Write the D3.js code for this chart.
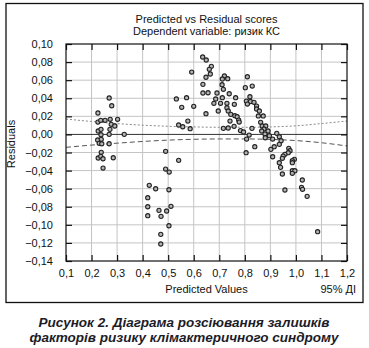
<!DOCTYPE html>
<html><head><meta charset="utf-8">
<script src="https://cdn.jsdelivr.net/npm/d3@7"></script>
<style>
body{margin:0;background:#fff;}
svg{display:block;font-family:"Liberation Sans",Arial,sans-serif;}
</style></head>
<body>
<svg id="c" width="369" height="348"></svg>
<script>
const titleLines = ["Predicted vs Residual scores", "Dependent variable: ризик КС"];
const xLabel = "Predicted Values";
const ciLabel = "95% ДІ";
const yLabel = "Residuals";
const captionLines = ["Рисунок 2. Діаграма розсіювання залишків", "факторів ризику клімактеричного синдрому"];
const xTicks = [0.1,0.2,0.3,0.4,0.5,0.6,0.7,0.8,0.9,1.0,1.1,1.2];
const yTicks = [0.10,0.08,0.06,0.04,0.02,0.00,-0.02,-0.04,-0.06,-0.08,-0.10,-0.12,-0.14];

// predicted values (x) and residuals (y)
const predicted = [
 0.269,0.279,0.225,0.225,0.236,0.253,0.273,0.302,0.277,0.291,0.272,0.226,0.237,0.237,0.269,0.328,0.224,0.238,0.230,0.240,0.269,0.238,0.226,0.236,0.245,0.285,0.245,
 0.490,0.541,0.490,0.504,0.426,0.451,0.503,0.420,0.420,0.464,0.494,0.511,0.420,0.472,0.503,0.471,0.471,
 0.635,0.649,0.669,0.661,0.665,0.592,0.648,0.636,0.720,0.712,0.733,0.711,0.716,0.691,0.739,0.636,0.656,0.712,0.764,0.686,0.532,0.572,0.679,0.705,0.730,0.759,0.553,0.600,0.696,0.730,0.735,0.648,0.745,0.761,0.770,0.577,0.776,0.778,0.742,0.541,0.557,0.586,0.716,0.735,0.758,0.783,0.795,
 0.810,0.802,0.829,0.820,0.806,0.822,0.836,0.810,0.846,0.846,0.857,0.853,0.872,0.862,0.828,0.868,0.882,0.875,0.866,0.891,0.817,0.879,0.925,0.807,0.880,0.896,0.909,0.935,0.942,0.839,0.935,0.915,0.902,0.805,0.972,0.977,0.970,0.957,0.950,0.947,0.909,0.994,0.986,0.986,0.935,0.940,0.986,0.996,0.986,0.947,1.025,1.022,1.026,0.957,1.044,1.085
];
const residuals = [
 0.0403,0.0317,0.0237,0.0137,0.0156,0.0156,0.0167,0.0167,0.0112,0.0093,0.0056,0.0038,0.0056,-0.0003,0.0001,0.0001,-0.0062,-0.0054,-0.0098,-0.0103,-0.0103,-0.0198,-0.0261,-0.0242,-0.0269,-0.0258,-0.0372,
 -0.0187,-0.0287,-0.0383,-0.0416,-0.0563,-0.0601,-0.0612,-0.0700,-0.0800,-0.0840,-0.0847,-0.0795,-0.0899,-0.0906,-0.1010,-0.1105,-0.1212,
 0.0856,0.0823,0.0753,0.0720,0.0668,0.0690,0.0632,0.0554,0.0646,0.0613,0.0616,0.0550,0.0499,0.0458,0.0450,0.0458,0.0461,0.0406,0.0406,0.0392,0.0392,0.0406,0.0344,0.0344,0.0344,0.0333,0.0300,0.0311,0.0259,0.0295,0.0259,0.0229,0.0222,0.0207,0.0196,0.0148,0.0159,0.0137,0.0148,0.0104,0.0085,0.0063,0.0067,0.0071,0.0090,0.0043,0.0027,
 0.0638,0.0517,0.0535,0.0417,0.0369,0.0364,0.0355,0.0336,0.0314,0.0281,0.0259,0.0204,0.0204,0.0134,0.0067,0.0093,0.0093,0.0060,0.0038,0.0038,-0.0007,0.0004,0.0012,-0.0051,-0.0037,-0.0014,-0.0051,-0.0025,-0.0070,-0.0136,-0.0110,-0.0136,-0.0165,-0.0202,-0.0154,-0.0180,-0.0202,-0.0220,-0.0239,-0.0264,-0.0247,-0.0275,-0.0291,-0.0313,-0.0313,-0.0364,-0.0402,-0.0402,-0.0430,-0.0438,-0.0504,-0.0585,-0.0607,-0.0615,-0.0685,-0.1076
];
// 95% confidence band
const ciX = [0.1,0.2,0.3,0.4,0.5,0.6,0.7,0.8,0.9,1.0,1.1,1.2];
const ciUpper = [0.017,0.0143,0.012,0.0102,0.009,0.0083,0.0079,0.0079,0.0083,0.0095,0.012,0.0148];
const ciLower = [-0.0143,-0.0118,-0.0097,-0.0078,-0.0063,-0.0054,-0.005,-0.005,-0.0055,-0.0068,-0.0092,-0.0128];

const svg = d3.select("#c");
const L=66,R=347,T=44,B=261;
const x = d3.scaleLinear().domain([0.1,1.2]).range([L,R]);
const y = d3.scaleLinear().domain([-0.14,0.10]).range([B,T]);
const fmtY = v => d3.format(".2f")(v).replace(".",",").replace("-","\u2212");
const fmtX = v => d3.format(".1f")(v).replace(".",",");

// outer frame
svg.append("rect").attr("x",6).attr("y",3.5).attr("width",357).attr("height",299)
  .attr("fill","none").attr("stroke","#111").attr("stroke-width",1.3);

// gridlines
const g = svg.append("g");
g.selectAll("line.vx").data(xTicks.slice(1,-1)).join("line")
  .attr("x1",d=>x(d)).attr("x2",d=>x(d)).attr("y1",T).attr("y2",B)
  .attr("stroke","#c4c4c4").attr("stroke-width",1);
g.selectAll("line.hy").data(yTicks.filter(d=>Math.abs(d)>1e-9).slice(1,-1)).join("line")
  .attr("x1",L).attr("x2",R).attr("y1",d=>y(d)).attr("y2",d=>y(d))
  .attr("stroke","#c4c4c4").attr("stroke-width",1);
// zero line
g.append("line").attr("x1",L).attr("x2",R).attr("y1",y(0)).attr("y2",y(0))
  .attr("stroke","#333").attr("stroke-width",1);

// CI curves
const ptsU = ciX.map((d,i)=>[d,ciUpper[i]]);
const ptsL = ciX.map((d,i)=>[d,ciLower[i]]);
const line = d3.line().x(d=>x(d[0])).y(d=>y(d[1])).curve(d3.curveMonotoneX);
svg.append("path").attr("d",line(ptsU)).attr("fill","none")
  .attr("stroke","#8a8a8a").attr("stroke-width",1).attr("stroke-dasharray","2,2");
svg.append("path").attr("d",line(ptsL)).attr("fill","none")
  .attr("stroke","#555").attr("stroke-width",1).attr("stroke-dasharray","5,3");

// axes
const axL = d3.axisLeft(y).tickValues(yTicks).tickSize(-6).tickPadding(13).tickFormat(fmtY);
const axR = d3.axisRight(y).tickValues(yTicks).tickSize(-6).tickFormat("");
const axB = d3.axisBottom(x).tickValues(xTicks).tickSize(-6).tickPadding(8).tickFormat(fmtX);
const axT = d3.axisTop(x).tickValues(xTicks).tickSize(-6).tickFormat("");
function style(sel){
  sel.selectAll("path").attr("stroke","#111").attr("stroke-width",1.2);
  sel.selectAll("line").attr("stroke","#111").attr("stroke-width",1.2);
  sel.selectAll("text").attr("fill","#111").style("font-size","11px").style("font-family","'Liberation Sans',Arial,sans-serif");
}
svg.append("g").attr("transform",`translate(${L},0)`).call(axL).call(style).call(s=>s.select(".domain").remove());
svg.append("g").attr("transform",`translate(${R},0)`).call(axR).call(style).call(s=>s.select(".domain").remove());
svg.append("g").attr("transform",`translate(0,${B})`).call(axB).call(style).call(s=>s.select(".domain").remove());
svg.append("g").attr("transform",`translate(0,${T})`).call(axT).call(style).call(s=>s.select(".domain").remove());
svg.append("rect").attr("x",L).attr("y",T).attr("width",R-L).attr("height",B-T)
  .attr("fill","none").attr("stroke","#111").attr("stroke-width",1.2);

// points
svg.append("g").selectAll("circle").data(predicted.map((d,i)=>[d,residuals[i]])).join("circle")
  .attr("cx",d=>x(d[0])).attr("cy",d=>y(d[1])).attr("r",2.1)
  .attr("fill","#b4b4b4").attr("stroke","#222").attr("stroke-width",1.1);

// titles
const tf = "'Liberation Sans',Arial,sans-serif";
svg.append("text").attr("x",(L+R)/2).attr("y",23).attr("text-anchor","middle")
  .style("font-family",tf).style("font-size","11px").attr("fill","#111").text(titleLines[0]);
svg.append("text").attr("x",(L+R)/2).attr("y",35).attr("text-anchor","middle")
  .style("font-family",tf).style("font-size","11px").attr("fill","#111").text(titleLines[1]);
svg.append("text").attr("x",(L+R)/2).attr("y",293).attr("text-anchor","middle")
  .style("font-family",tf).style("font-size","11px").attr("fill","#111").text(xLabel);
svg.append("text").attr("x",356).attr("y",293).attr("text-anchor","end")
  .style("font-family",tf).style("font-size","11px").attr("fill","#111").text(ciLabel);
svg.append("text").attr("transform","translate(15,144) rotate(-90)").attr("text-anchor","middle")
  .style("font-family",tf).style("font-size","11px").attr("fill","#111").text(yLabel);
// caption
captionLines.forEach((t,i)=>{
  svg.append("text").attr("x",184).attr("y",327+i*14.5).attr("text-anchor","middle")
    .style("font-family",tf).style("font-size","13.5px").style("font-weight","bold").style("font-style","italic")
    .attr("fill","#1c1c28").text(t);
});
</script>
</body></html>
